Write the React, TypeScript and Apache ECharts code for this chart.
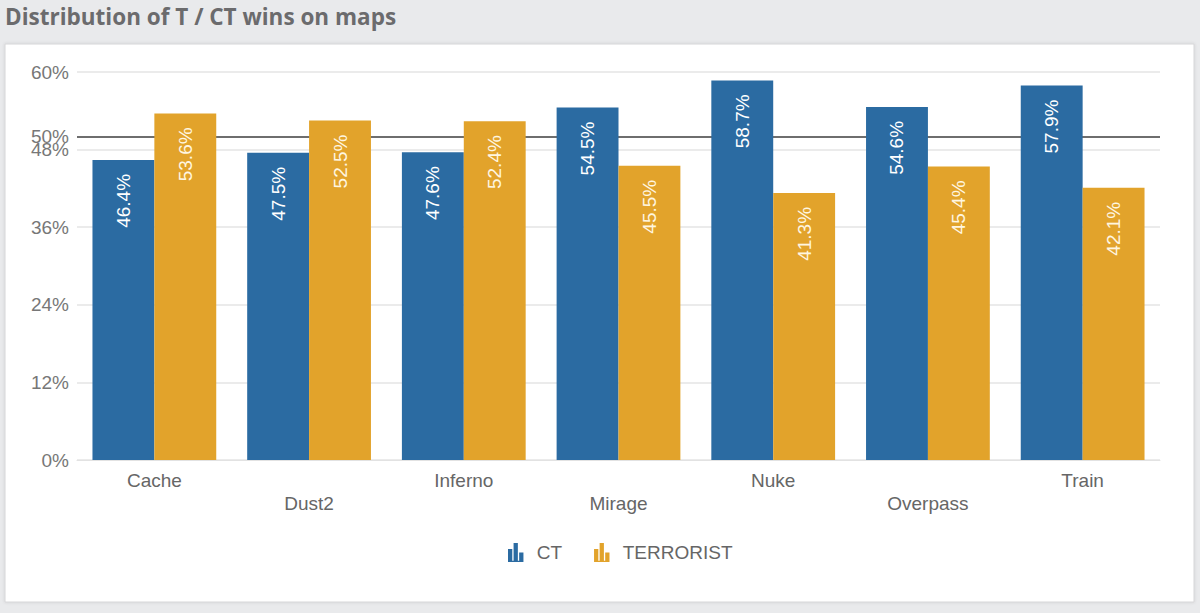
import React, { useEffect, useRef } from "react";
import * as echarts from "echarts";

const maps = ["Cache", "Dust2", "Inferno", "Mirage", "Nuke", "Overpass", "Train"];
const ctValues = [46.4, 47.5, 47.6, 54.5, 58.7, 54.6, 57.9];
const tValues = [53.6, 52.5, 52.4, 45.5, 41.3, 45.4, 42.1];
const referenceLine = 50;

const CT_COLOR = "#2B6BA2";
const T_COLOR = "#E2A32B";
const FONT = "'Liberation Sans', Arial, sans-serif";
const BAR_ICON = "path://M0,5h3.6v11h-3.6z M4.7,0h3.6v16h-3.6z M9.4,8h3.6v8h-3.6z M0,15h13v1h-13z";

export default function App() {
  const ref = useRef<HTMLDivElement>(null);
  useEffect(() => {
    if (!ref.current) return;
    const chart = echarts.init(ref.current, null, { renderer: "svg" });
    const labelFor = (color: string) => ({
      show: true,
      position: "insideTop",
      rotate: 90,
      align: "right",
      verticalAlign: "middle",
      distance: 14,
      color,
      fontFamily: FONT,
      fontSize: 19,
      formatter: (p: any) => p.value.toFixed(1) + "%",
    });
    chart.setOption({
      animation: false,
      backgroundColor: "#e9eaec",
      graphic: [
        {
          type: "rect",
          shape: { x: 5, y: 44, width: 1189, height: 558 },
          style: { fill: "#ffffff", stroke: "#d6d6d8", lineWidth: 1, shadowBlur: 3, shadowColor: "rgba(0,0,0,0.12)" },
          z: -10,
        },
        {
          type: "text",
          left: 5,
          top: 5,
          style: {
            text: "Distribution of T / CT wins on maps",
            fill: "#6b6b6d",
            font: "bold 22.5px 'Open Sans', sans-serif",
          },
        },
      ],
      grid: { left: 77, right: 40, top: 72, bottom: 153, containLabel: false },
      legend: {
        bottom: 46,
        left: 503,
        itemWidth: 16,
        itemHeight: 19,
        itemGap: 32,
        icon: BAR_ICON,
        textStyle: { color: "#666", fontSize: 19, fontFamily: FONT, padding: [0, 0, 0, 8] },
        data: ["CT", "TERRORIST"],
      },
      xAxis: {
        type: "category",
        data: maps,
        axisLine: { show: true, lineStyle: { color: "#e2e2e2" } },
        axisTick: { show: false },
        axisLabel: {
          color: "#666",
          fontSize: 19,
          fontFamily: FONT,
          margin: 9,
          lineHeight: 23,
          interval: 0,
          formatter: (v: string, i: number) => (i % 2 === 1 ? "\n" + v : v),
        },
      },
      yAxis: {
        type: "value",
        min: 0,
        max: 60,
        interval: 12,
        axisLine: { show: false },
        axisTick: { show: false },
        axisLabel: {
          color: "#777",
          fontSize: 19,
          fontFamily: FONT,
          margin: 8,
          formatter: "{value}%",
        },
        splitLine: { lineStyle: { color: "#e4e4e4", width: 1.5 } },
      },
      series: [
        {
          name: "CT",
          type: "bar",
          data: ctValues,
          barGap: "0%",
          barCategoryGap: "20%",
          itemStyle: { color: CT_COLOR },
          label: labelFor("#ffffff"),
          markLine: {
            silent: true,
            symbol: "none",
            data: [{ yAxis: referenceLine }],
            lineStyle: { color: "#6e6e6e", width: 2, type: "solid" },
            label: {
              show: true,
              position: "start",
              distance: 8,
              formatter: "50%",
              color: "#777",
              fontSize: 19,
              fontFamily: FONT,
            },
            z: 1,
          },
          z: 2,
        },
        {
          name: "TERRORIST",
          type: "bar",
          data: tValues,
          barGap: "0%",
          barCategoryGap: "20%",
          itemStyle: { color: T_COLOR },
          label: labelFor("#fff6e0"),
          z: 2,
        },
      ],
    });
    return () => chart.dispose();
  }, []);
  return (
    <div
      ref={ref}
      style={{ position: "fixed", left: 0, top: 0, width: 1200, height: 613 }}
    />
  );
}
